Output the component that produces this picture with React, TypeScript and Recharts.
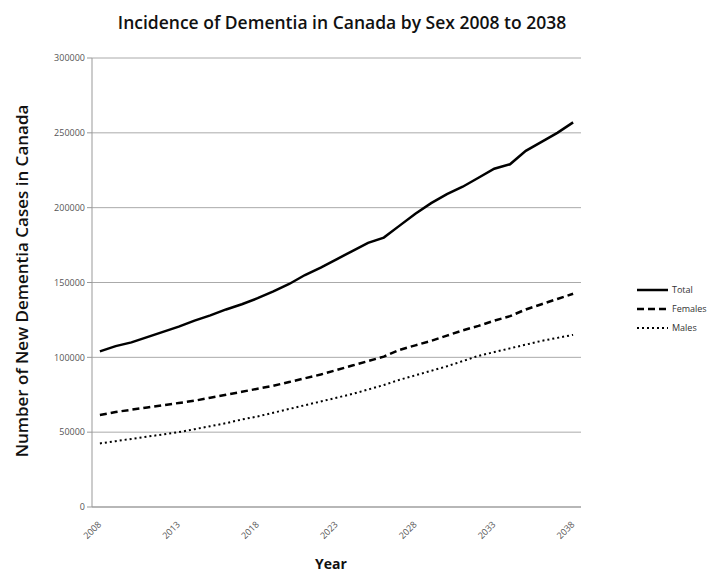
import React from "react";
import { LineChart, Line, XAxis, YAxis, CartesianGrid, Legend } from "recharts";

const years = [
  2008, 2009, 2010, 2011, 2012, 2013, 2014, 2015, 2016, 2017, 2018, 2019, 2020,
  2021, 2022, 2023, 2024, 2025, 2026, 2027, 2028, 2029, 2030, 2031, 2032, 2033,
  2034, 2035, 2036, 2037, 2038,
];

const total = [
  104000, 107500, 110000, 113500, 117000, 120500, 124500, 128000, 132000,
  135500, 139500, 144000, 149000, 155000, 160000, 165500, 171000, 176500,
  180000, 188000, 196000, 203000, 209000, 214000, 220000, 226000, 229000,
  238000, 244000, 250000, 257000,
];

const females = [
  61500, 63500, 65000, 66500, 68000, 69500, 71000, 73000, 75000, 77000, 79000,
  81000, 83500, 86000, 88500, 91500, 94500, 97500, 100500, 105000, 108000,
  111000, 114500, 118000, 121000, 124500, 127500, 132000, 135500, 139000,
  142500,
];

const males = [
  42500, 44000, 45500, 47000, 48500, 50000, 52000, 54000, 56000, 58500, 60500,
  63000, 65500, 68000, 70500, 73000, 75500, 78500, 81500, 85000, 88000, 91000,
  94000, 97500, 101000, 103500, 106000, 108500, 111000, 113000, 115000,
];

const xTicks = [2008, 2013, 2018, 2023, 2028, 2033, 2038];
const yTicks = [0, 50000, 100000, 150000, 200000, 250000, 300000];

const data = years.map((year, i) => ({
  year,
  Total: total[i],
  Females: females[i],
  Males: males[i],
}));

const seriesStyle = [
  { key: "Total", dash: undefined, width: 2.5 },
  { key: "Females", dash: "7 4", width: 2.5 },
  { key: "Males", dash: "2 3", width: 2 },
];

const tickFont = "'Open Sans', 'Liberation Sans', sans-serif";

function XTick(props: any) {
  const { x, y, payload } = props;
  return (
    <g transform={`translate(${x + 2},${y + 10})`}>
      <text
        transform="rotate(-45)"
        textAnchor="end"
        fontSize={9}
        fill="#555"
        fontFamily={tickFont}
      >
        {payload.value}
      </text>
    </g>
  );
}

function LegendBox() {
  return (
    <div style={{ fontFamily: tickFont, fontSize: 9, color: "#333" }}>
      {seriesStyle.map((s) => (
        <div
          key={s.key}
          style={{ display: "flex", alignItems: "center", height: 19 }}
        >
          <svg width={33} height={6}>
            <line
              x1={0}
              y1={3}
              x2={31}
              y2={3}
              stroke="#000"
              strokeWidth={s.width}
              strokeDasharray={s.dash}
            />
          </svg>
          <span style={{ marginLeft: 2 }}>{s.key}</span>
        </div>
      ))}
    </div>
  );
}

export default function App() {
  return (
    <div
      style={{
        position: "absolute",
        left: 0,
        top: 0,
        width: 711,
        height: 574,
        background: "#fff",
        fontFamily: tickFont,
      }}
    >
      <div
        style={{
          position: "absolute",
          top: 10,
          left: 0,
          width: 684,
          textAlign: "center",
          fontSize: 17.5,
          fontWeight: 600,
          color: "#111",
        }}
      >
        Incidence of Dementia in Canada by Sex 2008 to 2038
      </div>
      <div
        style={{
          position: "absolute",
          left: 21,
          top: 281,
          transform: "translate(-50%, -50%) rotate(-90deg)",
          whiteSpace: "nowrap",
          fontSize: 17,
          fontWeight: 600,
          color: "#111",
        }}
      >
        Number of New Dementia Cases in Canada
      </div>
      <div
        style={{
          position: "absolute",
          left: 315,
          top: 554,
          fontSize: 14,
          fontWeight: 700,
          color: "#111",
        }}
      >
        Year
      </div>
      <LineChart
        width={711}
        height={574}
        data={data}
        margin={{ top: 58, right: 56, bottom: 37, left: 0 }}
      >
        <CartesianGrid vertical={false} stroke="#aaa" />
        <XAxis
          dataKey="year"
          type="number"
          domain={[2007.5, 2038.5]}
          ticks={xTicks}
          tick={<XTick />}
          tickLine={false}
          axisLine={{ stroke: "#999" }}
          interval={0}
        />
        <YAxis
          width={92}
          domain={[0, 300000]}
          ticks={yTicks}
          tickLine={{ stroke: "#999" }}
          tickSize={5}
          axisLine={{ stroke: "#999" }}
          tick={{ fontSize: 9, fill: "#555", fontFamily: tickFont }}
          interval={0}
        />
        <Legend
          layout="vertical"
          align="right"
          verticalAlign="top"
          content={<LegendBox />}
          wrapperStyle={{ left: 637, top: 280, width: 74 }}
        />
        {seriesStyle.map((s) => (
          <Line
            key={s.key}
            type="linear"
            dataKey={s.key}
            stroke="#000"
            strokeWidth={s.width}
            strokeDasharray={s.dash}
            dot={false}
            isAnimationActive={false}
          />
        ))}
      </LineChart>
    </div>
  );
}
